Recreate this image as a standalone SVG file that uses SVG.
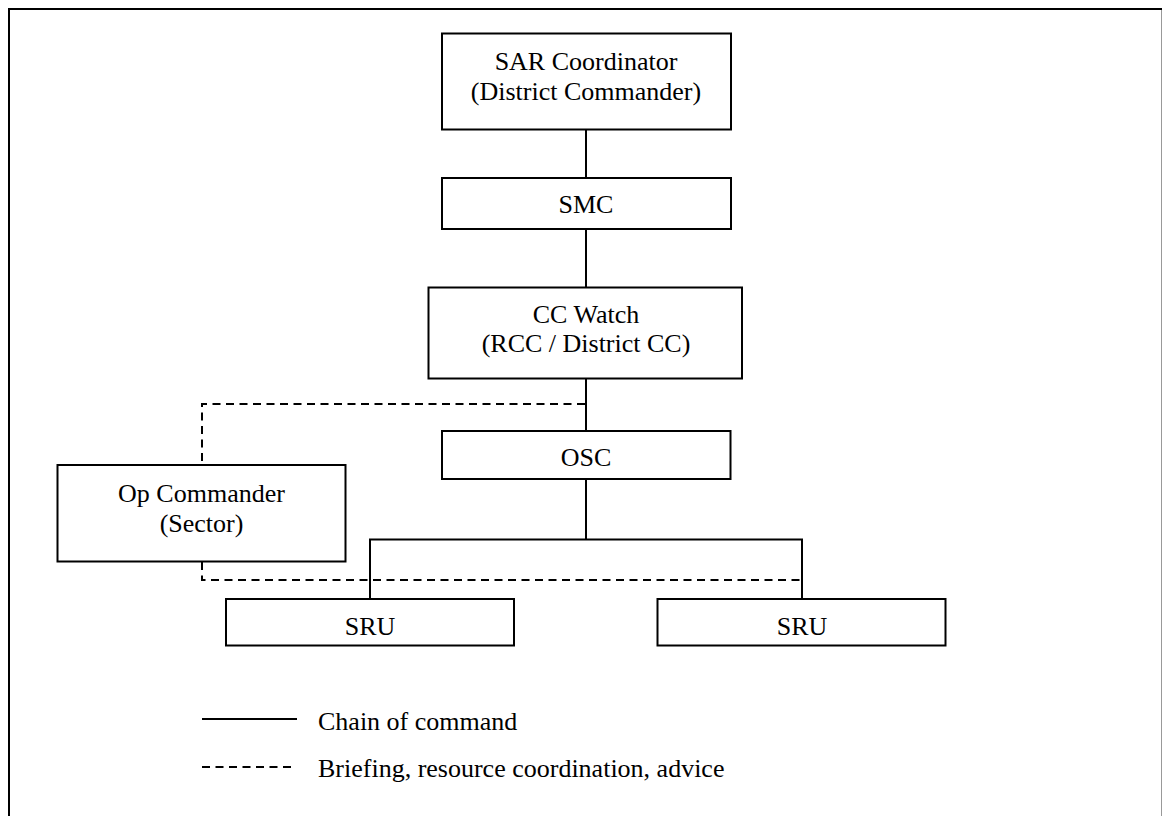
<svg xmlns="http://www.w3.org/2000/svg" width="1162" height="816" viewBox="0 0 1162 816">
<style>
.box{fill:#fff;stroke:#000;stroke-width:2}
.t{font-family:"Liberation Serif","Times New Roman",serif;font-size:26px;fill:#000;text-anchor:middle}
.lt{font-family:"Liberation Serif","Times New Roman",serif;font-size:26px;fill:#000}
.solid{stroke:#000;stroke-width:2;fill:none}
.dash{stroke:#000;stroke-width:2;fill:none;stroke-dasharray:8 5.5}
</style>
<rect x="0" y="0" width="1162" height="816" fill="#fff"/>
<rect x="9" y="9" width="1153.6" height="830" fill="none" stroke="#000" stroke-width="2"/>
<g id="connectors">
<line class="solid" x1="586" y1="129" x2="586" y2="178"/>
<line class="solid" x1="586" y1="229" x2="586" y2="287"/>
<line class="solid" x1="586" y1="378" x2="586" y2="431"/>
<polyline class="dash" points="585,404 202,404 202,465"/>
<polyline class="dash" points="202,562 202,580 802,580"/>
<line class="solid" x1="586" y1="479" x2="586" y2="539.5"/>
<polyline class="solid" points="370,599 370,539.5 802,539.5 802,599"/>
</g>
<g id="sar">
<rect class="box" x="442" y="33.5" width="289" height="96"/>
<text class="t" x="586" y="70">SAR Coordinator</text>
<text class="t" x="586" y="100">(District Commander)</text>
</g>
<g id="smc">
<rect class="box" x="442" y="178" width="289" height="51"/>
<text class="t" x="586" y="213">SMC</text>
</g>
<g id="ccwatch">
<rect class="box" x="428.5" y="287.5" width="313.5" height="91"/>
<text class="t" x="586" y="323">CC Watch</text>
<text class="t" x="586" y="352">(RCC / District CC)</text>
</g>
<g id="osc">
<rect class="box" x="442" y="431" width="288.5" height="48"/>
<text class="t" x="586" y="466">OSC</text>
</g>
<g id="opcommander">
<rect class="box" x="57.5" y="465" width="288" height="96.5"/>
<text class="t" x="201.5" y="502">Op Commander</text>
<text class="t" x="201.5" y="532">(Sector)</text>
</g>
<g id="sru1">
<rect class="box" x="226" y="599" width="288" height="46.5"/>
<text class="t" x="370" y="635">SRU</text>
</g>
<g id="sru2">
<rect class="box" x="657.5" y="599" width="288" height="46.5"/>
<text class="t" x="802" y="635">SRU</text>
</g>
<g id="legend">
<line class="solid" x1="202" y1="719" x2="297" y2="719"/>
<text class="lt" x="318" y="730">Chain of command</text>
<line class="dash" x1="202" y1="767" x2="296" y2="767"/>
<text class="lt" x="318" y="777">Briefing, resource coordination, advice</text>
</g>
</svg>
